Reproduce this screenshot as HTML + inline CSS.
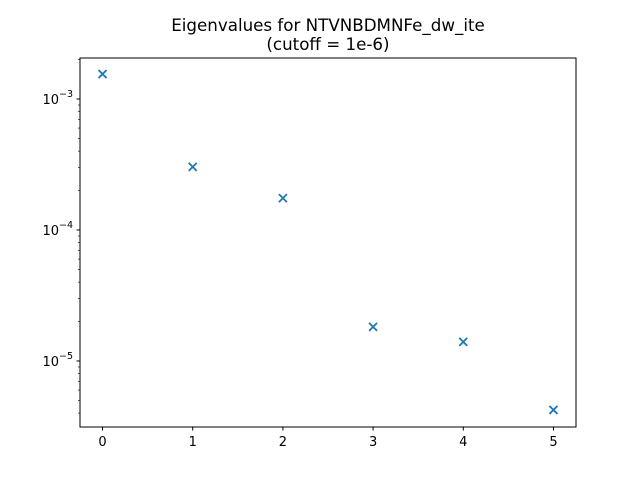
<!DOCTYPE html>
<html><head><meta charset="utf-8"><style>
body{margin:0;background:#fff;}
svg{display:block;font-family:"DejaVu Sans","Liberation Sans",sans-serif;}
</style></head><body>
<svg id="chart" width="640" height="480">
<rect width="640" height="480" fill="#fff"/>
<text x="328" y="31" text-anchor="middle" font-size="16.7">Eigenvalues for NTVNBDMNFe_dw_ite</text>
<text x="328" y="50" text-anchor="middle" font-size="16.7">(cutoff = 1e-6)</text>
<g id="axes"></g>
<g id="marks"></g>
<rect x="80" y="58" width="496" height="369" fill="none" stroke="#000" stroke-width="1"/>
</svg>
<script>
const indices = [0, 1, 2, 3, 4, 5];
const eigenvalues = [1.55e-3, 3.03e-4, 1.75e-4, 1.82e-5, 1.40e-5, 4.23e-6];
const xTicks = [0, 1, 2, 3, 4, 5];
const yDecades = [-5, -4, -3];

const L=80,R=576,T=58,B=427;
const xMin=-0.25,xMax=5.25,lMin=-5.504,lMax=-2.687;
const sx=v=>L+(v-xMin)/(xMax-xMin)*(R-L);
const sy=v=>B-(Math.log10(v)-lMin)/(lMax-lMin)*(B-T);
const NS="http://www.w3.org/2000/svg";
const ax=document.getElementById('axes'), mk=document.getElementById('marks');
function el(tag,attrs,parent){const e=document.createElementNS(NS,tag);for(const k in attrs)e.setAttribute(k,attrs[k]);parent.appendChild(e);return e;}
xTicks.forEach(t=>{
  const x=sx(t);
  const tk=el('line',{x1:x,x2:x,y1:B,y2:B+3.5,stroke:'#000'},ax);
  
  
  const lb=el('text',{x:x,y:B+19,'text-anchor':'middle','font-size':'13'},ax);
  lb.textContent=t;
  
  
});
for(let d=-6;d<=-2;d++){
  for(let m=2;m<=9;m++){
    const v=m*Math.pow(10,d);const y=sy(v);
    if(y<T||y>B)continue;
    const mt=el('line',{x1:L-2,x2:L,y1:y,y2:y,stroke:'#000','stroke-width':0.6},ax);
    
    
  }
}
yDecades.forEach(d=>{
  const y=sy(Math.pow(10,d));
  const tk=el('line',{x1:L-3.5,x2:L,y1:y,y2:y,stroke:'#000'},ax);
  
  
  const lb=el('text',{x:L-7,y:y+5,'text-anchor':'end','font-size':'13'},ax);
  lb.innerHTML='10<tspan dy="-7" font-size="9.5">\u2212'+Math.abs(d)+'</tspan>';
  
  
});
indices.forEach((i,k)=>{
  const x=sx(i),y=sy(eigenvalues[k]),s=4;
  const g=el('path',{d:`M${x-s},${y-s}L${x+s},${y+s}M${x-s},${y+s}L${x+s},${y-s}`,stroke:'#1f77b4','stroke-width':1.8},mk);
  
  
});
</script>
</body></html>
